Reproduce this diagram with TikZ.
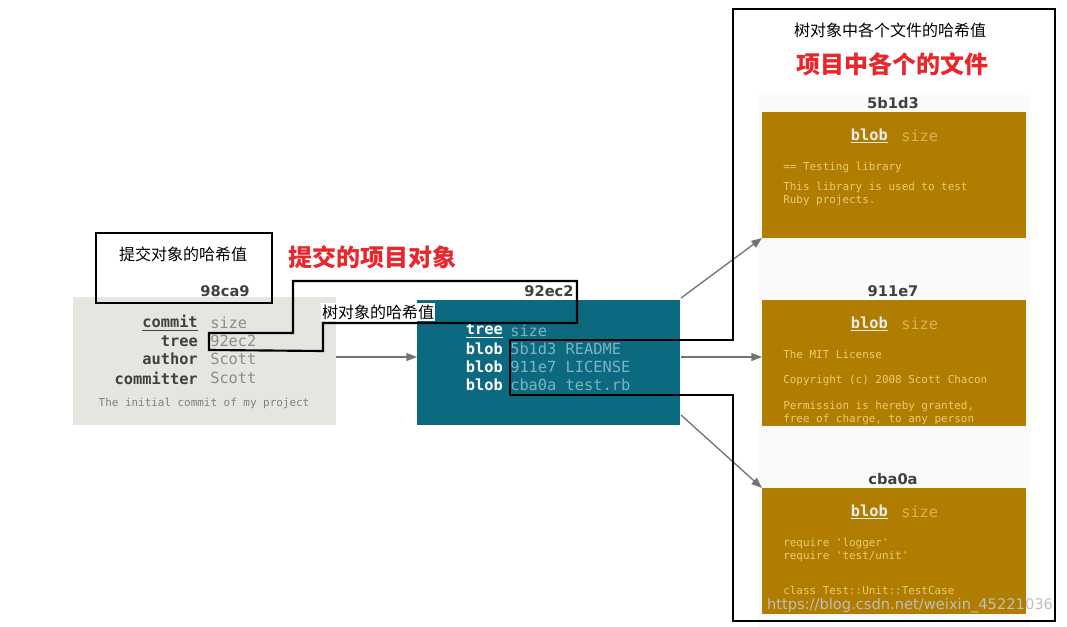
\documentclass[tikz,border=0pt]{standalone}
\usepackage{fontspec}
\setmonofont{DejaVu Sans Mono}
\setsansfont{DejaVu Sans}
\newfontfamily\cjk{Noto Sans CJK SC}
\usetikzlibrary{arrows.meta}
\definecolor{cgrey}{HTML}{E6E5DF}
\definecolor{teal}{HTML}{0B6A80}
\definecolor{gold}{HTML}{B07D00}
\definecolor{tval}{HTML}{7FB3C2}
\definecolor{gval}{HTML}{D8B458}
\definecolor{gtxt}{HTML}{EBCB72}
\definecolor{redt}{HTML}{E8262C}
\tikzset{
  mono/.style={font=\ttfamily\bfseries\fontsize{11.5}{13.5}\selectfont, inner sep=0pt},
  hash/.style={font=\sffamily\bfseries\fontsize{11}{13}\selectfont, text=black!75, inner sep=0pt},
  small/.style={font=\ttfamily\fontsize{8.2}{10}\selectfont, inner sep=0pt, align=left, text=gtxt},
  cjkl/.style={font=\cjk\fontsize{12}{14}\selectfont, inner sep=1pt},
  cjkr/.style={font=\cjk\bfseries\fontsize{18}{20}\selectfont, text=redt, inner sep=0pt},
  arr/.style={draw=black!55, line width=1pt, -{Triangle[length=8pt,width=6pt]}},
  outline/.style={draw=black, line width=1.6pt},
}
\begin{document}
\begin{tikzpicture}[x=0.75pt,y=-0.75pt]
\useasboundingbox[fill=white] (0,0) rectangle (1067,627);
% commit
\fill[cgrey] (73,297) rectangle (336,425);
\node[hash] (c) at (225,291) {98ca9};
\coordinate (cE) at (336,357);
\node[mono,anchor=east,text=black!75] at (198,323) {\underline{commit}};
\node[mono,anchor=east,text=black!75] at (198,341) {tree};
\node[mono,anchor=east,text=black!75] at (198,359) {author};
\node[mono,anchor=east,text=black!75] at (198,378) {committer};
\node[mono,anchor=west,text=black!45,font=\ttfamily\fontsize{11.5}{13.5}\selectfont] at (210,323) {size};
\node[mono,anchor=west,text=black!45,font=\ttfamily\fontsize{11.5}{13.5}\selectfont] at (210,341) {92ec2};
\node[mono,anchor=west,text=black!45,font=\ttfamily\fontsize{11.5}{13.5}\selectfont] at (210,359) {Scott};
\node[mono,anchor=west,text=black!45,font=\ttfamily\fontsize{11.5}{13.5}\selectfont] at (210,378) {Scott};
\node[small,text=black!50] at (204,403) {The initial commit of my project};
% tree
\fill[teal] (417,300) rectangle (680,425);
\node[hash] (t) at (549,291) {92ec2};
\coordinate (tW) at (417,357);
\coordinate (tNE) at (681,298);
\coordinate (tE) at (681,357);
\coordinate (tSE) at (681,415);
\foreach \y/\l/\v in {331/\underline{tree}/size,349/blob/5b1d3 README,367/blob/911e7 LICENSE,385/blob/cba0a test.rb}{
  \node[mono,anchor=east,text=white] at (503,\y) {\l};
  \node[mono,anchor=west,text=tval,font=\ttfamily\fontsize{11.5}{13.5}\selectfont] at (510,\y) {\v};
}
% blobs
\fill[black!2] (758,95) rectangle (1030,627);
\foreach \n/\top/\h in {b1/112/5b1d3,b2/300/911e7,b3/488/cba0a}{
  \fill[gold] (762,\top) rectangle (1026,\top+126);
  \node[hash] (\n h) at (893,\top-9) {\h};
  \node[mono,anchor=east,text=white!92!black] at (888,\top+24) {\underline{blob}};
  \node[mono,anchor=west,text=gval,font=\ttfamily\fontsize{11.5}{13.5}\selectfont] at (901,\top+24) {size};
  \coordinate (\n W) at (762,\top+57);
}
\coordinate (b1SW) at (762,238);
\coordinate (b3NW) at (762,488);
\node[small,anchor=north west] at (783,162) {== Testing library\\[5pt]This library is used to test\\Ruby projects.};
\node[small,anchor=north west] at (783,350) {The MIT License\\[9pt]Copyright (c) 2008 Scott Chacon\\[9pt]Permission is hereby granted,\\free of charge, to any person};
\node[small,anchor=north west] at (783,538) {require 'logger'\\require 'test/unit'\\[16pt]class Test::Unit::TestCase};
% arrows
\draw[arr] (cE) -- (tW);
\draw[arr] (tNE) -- (b1SW);
\draw[arr] (tE) -- (b2W);
\draw[arr] (tSE) -- (b3NW);
% annotations
\draw[outline] (96,233) rectangle (272,303);
\node[cjkl] (l1) at (183,254) {提交对象的哈希值};
\node[cjkr] (r1) at (372,257) {提交的项目对象};
\draw[outline] (209,350) -- (209,333) -- (293,333) -- (293,281) -- (577,281) -- (577,323) -- (323,323) -- (323,351) -- cycle;
\node[cjkl,fill=white] (l2) at (378,312) {树对象的哈希值};
\draw[outline] (733,9) -- (1055,9) -- (1055,621) -- (733,621) -- (733,395) -- (510,395) -- (510,340) -- (733,340) -- cycle;
\node[cjkl] (l3) at (890,30) {树对象中各个文件的哈希值};
\node[cjkr] (r2) at (892,64) {项目中各个的文件};
\node[font=\sffamily\fontsize{11}{13}\selectfont,text=black!25,inner sep=0pt] (wm) at (910,606) {https://blog.csdn.net/weixin\_45221036};
\end{tikzpicture}
\end{document}
